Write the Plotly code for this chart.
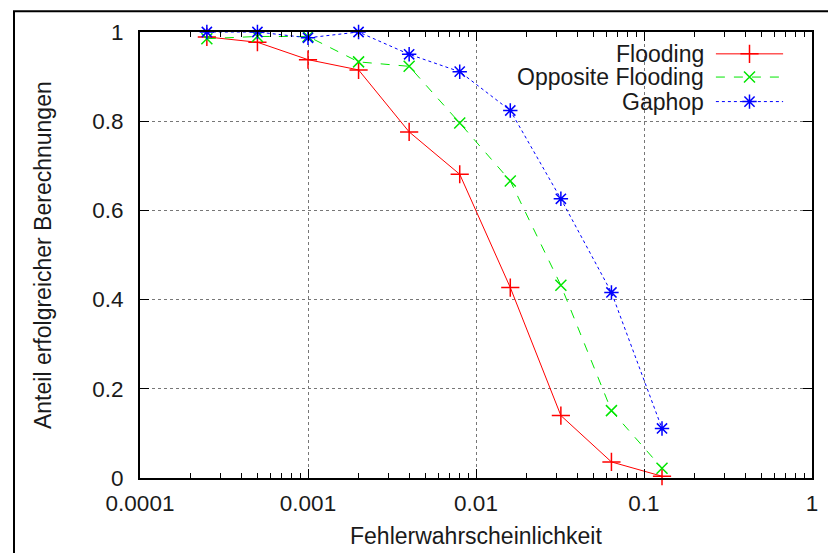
import plotly.graph_objects as go

# ---- data ----
error_prob = [0.00025, 0.0005, 0.001, 0.002, 0.004, 0.008, 0.016, 0.032, 0.064, 0.128]
flooding = [0.989, 0.977, 0.938, 0.915, 0.776, 0.681, 0.427, 0.14, 0.036, 0.004]
opposite_flooding = [0.985, 0.99, 0.99, 0.933, 0.923, 0.796, 0.666, 0.432, 0.151, 0.022]
gaphop = [1.0, 1.0, 0.987, 1.0, 0.95, 0.911, 0.824, 0.626, 0.416, 0.111]

series_names = ["Flooding", "Opposite Flooding", "Gaphop"]
x_tick_vals = [0.0001, 0.001, 0.01, 0.1, 1]
x_tick_text = ["0.0001", "0.001", "0.01", "0.1", "1"]
y_tick_vals = [0, 0.2, 0.4, 0.6, 0.8, 1]
y_tick_text = ["0", "0.2", "0.4", "0.6", "0.8", "1"]

FONT = "Liberation Sans, Arial, sans-serif"
FS_TICK = 22.5
FS_TEXT = 23
TXT = "#1a1a1a"

styles = [
    dict(color="#ff0000", dash="solid", symbol="cross-thin", size=13),
    dict(color="#00e600", dash="dash", symbol="x-thin", size=11),
    dict(color="#0000ff", dash="dot", symbol="asterisk-open", size=12),
]
series_vals = [flooding, opposite_flooding, gaphop]

fig = go.Figure()
for name, vals, st in zip(series_names, series_vals, styles):
    fig.add_trace(go.Scatter(
        x=error_prob, y=vals, mode="lines+markers", name=name,
        line=dict(color=st["color"], width=1, dash=st["dash"]),
        marker=dict(symbol=st["symbol"], size=st["size"], color=st["color"],
                    line=dict(color=st["color"], width=1.5)),
        showlegend=False, cliponaxis=False,
    ))

# custom gnuplot-style key (text right-aligned, sample on the right)
key_rows = [0.951, 0.899, 0.844]
for name, st, ky in zip(series_names, styles, key_rows):
    fig.add_trace(go.Scatter(
        x=[0.857, 0.957], y=[ky, ky], xaxis="x2", yaxis="y2", mode="lines",
        line=dict(color=st["color"], width=1, dash=st["dash"]),
        showlegend=False, hoverinfo="skip",
    ))
    fig.add_trace(go.Scatter(
        x=[0.907], y=[ky], xaxis="x2", yaxis="y2", mode="markers",
        marker=dict(symbol=st["symbol"], size=st["size"], color=st["color"],
                    line=dict(color=st["color"], width=1.5)),
        showlegend=False, hoverinfo="skip",
    ))
    fig.add_annotation(x=0.842, y=ky, xref="paper", yref="paper", text=name,
                       showarrow=False, xanchor="right", yanchor="middle",
                       font=dict(family=FONT, size=FS_TEXT, color=TXT))

fig.update_layout(
    width=836, height=553,
    margin=dict(l=132, r=32, t=20, b=83),
    paper_bgcolor="white", plot_bgcolor="white",
    font=dict(family=FONT, size=FS_TICK, color=TXT),
    xaxis=dict(
        type="log", range=[-4, 0], tickvals=x_tick_vals, ticktext=x_tick_text,
        ticks="inside", ticklen=9, tickwidth=1, tickcolor="black",
        showline=True, linecolor="black", linewidth=2, mirror="ticks",
        showgrid=True, gridcolor="#777", griddash="dot", gridwidth=1,
        zeroline=False, ticklabelstandoff=4,
        minor=dict(ticks="inside", ticklen=5, tickcolor="black", dtick="D1", showgrid=False),
    ),
    yaxis=dict(
        range=[0, 1], tickvals=y_tick_vals, ticktext=y_tick_text,
        ticks="inside", ticklen=9, tickwidth=1, tickcolor="black",
        showline=True, linecolor="black", linewidth=2, mirror="ticks",
        showgrid=True, gridcolor="#777", griddash="dot", gridwidth=1,
        zeroline=False, ticklabelstandoff=10,
    ),
    xaxis2=dict(range=[0, 1], overlaying="x", visible=False, fixedrange=True),
    yaxis2=dict(range=[0, 1], overlaying="y", visible=False, fixedrange=True),
    shapes=[dict(type="rect", xref="paper", yref="paper",
                 x0=-0.1875, x1=1.0253, y0=-0.25, y1=1.0467,
                 line=dict(color="black", width=2), layer="above")],
)

fig.add_annotation(x=0.5, y=-0.131, xref="paper", yref="paper",
                   text="Fehlerwahrscheinlichkeit", showarrow=False,
                   xanchor="center", yanchor="middle",
                   font=dict(family=FONT, size=FS_TEXT, color=TXT))
fig.add_annotation(x=-0.1443, y=0.5, xref="paper", yref="paper",
                   text="Anteil erfolgreicher Berechnungen", showarrow=False,
                   textangle=-90, xanchor="center", yanchor="middle",
                   font=dict(family=FONT, size=FS_TEXT, color=TXT))

fig.write_html("out.html")
